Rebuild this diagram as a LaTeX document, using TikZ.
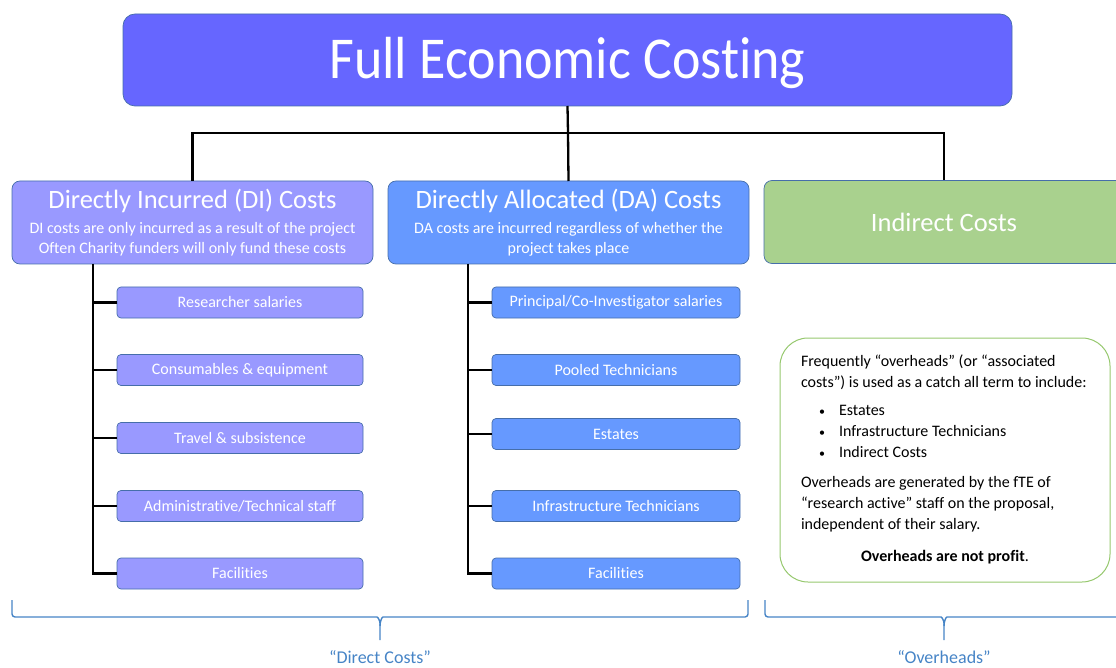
\documentclass[tikz,border=0pt]{standalone}
\usepackage{fontspec}
\setmainfont{Carlito}[Ligatures=NoCommon]
\usetikzlibrary{positioning}

\definecolor{fecblue}{RGB}{102,102,255}
\definecolor{diviolet}{RGB}{153,153,255}
\definecolor{dablue}{RGB}{102,153,255}
\definecolor{indgreen}{RGB}{169,209,142}
\definecolor{edgeblue}{RGB}{70,110,170}
\definecolor{ohgreen}{RGB}{150,200,110}
\definecolor{bracecol}{RGB}{70,132,198}

\newcommand{\ohbullet}{\makebox[38pt][l]{\hspace*{18pt}\scalebox{0.75}{\textbullet}}}

\begin{document}
\begin{tikzpicture}[
		x=1pt, y=-1pt,
		every node/.style={inner sep=0pt, outer sep=0pt},
		catbox/.style={rectangle, rounded corners=8pt, draw=edgeblue, line width=0.7pt,
			text=white, minimum width=361pt, minimum height=83pt, align=center,
			font=\fontsize{16}{20}\selectfont},
		itembox/.style={rectangle, rounded corners=4pt, draw=edgeblue, line width=0.7pt,
			text=white, minimum width=246pt, minimum height=31pt,
			font=\fontsize{16}{18}\selectfont},
		tree/.style={line width=2.3pt},
		bracket/.style={draw=bracecol, line width=1.4pt, rounded corners=3pt},
		bracelabel/.style={text=bracecol, font=\fontsize{18}{20}\selectfont}
	]
  \useasboundingbox (0,0) rectangle (1116,668);
  \clip (0,0) rectangle (1116,668);

  % top of the tree
  \node (fec) [rectangle, rounded corners=12pt, fill=fecblue, draw=edgeblue, line width=0.7pt,
    minimum width=889pt, minimum height=92pt, text=white] at (567.5,60)
    {\raisebox{-19pt}[0pt][0pt]{\scalebox{1}[1.1]{\fontsize{54}{56}\selectfont Full Economic Costing}}};

  % three cost groups
  \node (di) [catbox, fill=diviolet] at (192.5,222.5)
    {{\fontsize{26.5}{28}\selectfont Directly Incurred (DI) Costs}\\[5pt]
     DI costs are only incurred as a result of the project\\
     Often Charity funders will only fund these costs};
  \node (da) [catbox, fill=dablue] at (568.5,222.5)
    {{\fontsize{26.5}{28}\selectfont Directly Allocated (DA) Costs}\\[5pt]
     DA costs are incurred regardless of whether the\\
     project takes place};
  \node (ind) [catbox, fill=indgreen, minimum width=360pt] at (944,222)
    {\fontsize{26.5}{28}\selectfont Indirect Costs};

  \coordinate (split) at (568,133);
  \draw [tree] (fec.south) -- (split);
  \draw [tree] (split) -| (di.north);
  \draw [tree] (split) -- (da.north);
  \draw [tree] (split) -| (ind.north);

  % DI items
  \node (di1) [itembox, fill=diviolet] at (240,302.5) {Researcher salaries};
  \node (di2) [itembox, fill=diviolet] at (240,370) {Consumables \& equipment};
  \node (di3) [itembox, fill=diviolet] at (240,438) {Travel \& subsistence};
  \node (di4) [itembox, fill=diviolet] at (240,506) {Administrative/Technical staff};
  \node (di5) [itembox, fill=diviolet] at (240,573.5) {Facilities};

  \coordinate (dispine) at (93,264);
  \draw [tree] (dispine) |- (di5.west);
  \draw [tree] (di1.west) -- (di1.west -| dispine);
  \draw [tree] (di2.west) -- (di2.west -| dispine);
  \draw [tree] (di3.west) -- (di3.west -| dispine);
  \draw [tree] (di4.west) -- (di4.west -| dispine);

  % DA items
  \node (da1) [itembox, fill=dablue, minimum width=248pt] at (616,302.5) {Principal/Co-Investigator salaries};
  \node (da2) [itembox, fill=dablue, minimum width=248pt] at (616,370) {Pooled Technicians};
  \node (da3) [itembox, fill=dablue, minimum width=248pt] at (616,434) {Estates};
  \node (da4) [itembox, fill=dablue, minimum width=248pt] at (616,506) {Infrastructure Technicians};
  \node (da5) [itembox, fill=dablue, minimum width=248pt] at (616,573.5) {Facilities};

  \coordinate (daspine) at (468,264);
  \draw [tree] (daspine) |- (da5.west);
  \draw [tree] (da1.west) -- (da1.west -| daspine);
  \draw [tree] (da2.west) -- (da2.west -| daspine);
  \draw [tree] (da3.west) -- (da3.west -| daspine);
  \draw [tree] (da4.west) -- (da4.west -| daspine);

  % overheads note
  \node (ohbox) [rectangle, rounded corners=28pt, draw=ohgreen, line width=1pt,
    minimum width=330pt, minimum height=244pt] at (945,460) {};
  \node (ohtext) [anchor=north west, align=left, font=\fontsize{16}{21}\selectfont] at (801,355)
    {Frequently “overheads” (or “associated\\
     costs”) is used as a catch all term to include:\\[7pt]
     \ohbullet Estates\\
     \ohbullet Infrastructure Technicians\\
     \ohbullet Indirect Costs\\[9pt]
     Overheads are generated by the fTE of\\
     “research active” staff on the proposal,\\
     independent of their salary.};
  \node (ohnote) [font=\fontsize{16}{18}\selectfont\bfseries] at (945,557)
    {Overheads are not profit\textmd{.}};

  % braces
  \coordinate (dctip) at (380,640);
  \coordinate (ohtip) at (944,640);
  \draw [bracket] (12,600) -- (12,617) -- (374,617) to[out=0,in=90] (380,626) -- (dctip);
  \draw [bracket] (380,626) to[out=90,in=180] (386,617) -- (748,617) -- (748,600);
  \draw [bracket] (765,600) -- (765,617) -- (938,617) to[out=0,in=90] (944,626) -- (ohtip);
  \draw [bracket] (944,626) to[out=90,in=180] (950,617) -- (1125,617);
  \node (dclabel) [bracelabel] at (380,657) {“Direct Costs”};
  \node (ohlabel) [bracelabel] at (944,657) {“Overheads”};
\end{tikzpicture}
\end{document}
